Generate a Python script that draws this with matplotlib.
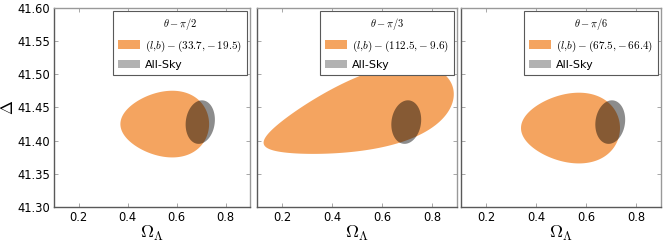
import numpy as np
import matplotlib
matplotlib.use("Agg")
import matplotlib.pyplot as plt
from matplotlib.patches import Patch

plt.rcParams['mathtext.fontset'] = 'cm'
plt.rcParams['font.family'] = ['DejaVu Sans']

# Panel data
titles = [r'$\theta-\pi/2$', r'$\theta-\pi/3$', r'$\theta-\pi/6$']
labels = [r'$(l{,}b)-(33.7{,}-19.5)$', r'$(l{,}b)-(112.5{,}-9.6)$', r'$(l{,}b)-(67.5{,}-66.4)$']
# orange contour: centre (Omega_L, Delta), half-width in Omega_L, half-height in Delta, tilt deg, egg skew
orange_cx = [0.552, 0.505, 0.538]
orange_cy = [41.425, 41.438, 41.419]
orange_a = [0.181, 0.395, 0.198]
orange_b = [0.0495, 0.054, 0.0525]
orange_tilt = [0.0, 17.0, 0.0]
orange_skew = [0.18, 0.38, 0.18]
# all-sky contour
sky_cx, sky_cy, sky_a, sky_b, sky_tilt = 0.697, 41.428, 0.059, 0.033, -8.0

xlim = (0.1, 0.9)
ylim = (41.30, 41.60)
xticks = [0.2, 0.4, 0.6, 0.8]
yticks = [41.30, 41.35, 41.40, 41.45, 41.50, 41.55, 41.60]

orange = '#f4a460'

def contour(cx, cy, a, b, tilt, skew):
    # compute in normalized axes units so tilt is visual
    sx = xlim[1] - xlim[0]
    sy = ylim[1] - ylim[0]
    t = np.linspace(0, 2 * np.pi, 400)
    A = a / sx
    B = b / sy
    p = A * np.cos(t)
    q = B * np.sin(t) * (1 + skew * np.cos(t))
    th = np.deg2rad(tilt)
    u = p * np.cos(th) - q * np.sin(th)
    v = p * np.sin(th) + q * np.cos(th)
    return cx + u * sx, cy + v * sy

fig = plt.figure(figsize=(6.64, 2.44), dpi=100)
W, H = 664, 244
boxes = [(54, 250), (257, 457), (461, 661)]
top, bottom = 8, 207
for i, (l, r) in enumerate(boxes):
    ax = fig.add_axes([l / W, 1 - bottom / H, (r - l) / W, (bottom - top) / H])
    x, y = contour(orange_cx[i], orange_cy[i], orange_a[i], orange_b[i], orange_tilt[i], orange_skew[i])
    ax.fill(x, y, color=orange, lw=0, zorder=2)
    gx, gy = contour(sky_cx, sky_cy, sky_a, sky_b, sky_tilt, 0.0)
    ax.fill(gx, gy, color='k', alpha=0.45, lw=0, zorder=3)
    ax.set_xlim(*xlim)
    ax.set_ylim(*ylim)
    ax.set_xticks(xticks)
    ax.set_yticks(yticks)
    ax.tick_params(direction='in', length=3, width=0.6, color='0.6',
                   top=True, right=True, labelsize=8.3, pad=3)
    ax.set_xticklabels([f'{v:.1f}' for v in xticks])
    if i == 0:
        ax.set_yticklabels([f'{v:.2f}' for v in yticks])
        ax.set_ylabel(r'$\Delta$', fontsize=12)
        ax.yaxis.set_label_coords(-0.19, 0.5)
    else:
        ax.set_yticklabels([])
    ax.set_xlabel(r'$\Omega_\Lambda$', fontsize=13, labelpad=0)
    for s in ['left', 'bottom']:
        ax.spines[s].set_color('0.35')
        ax.spines[s].set_linewidth(1.0)
    for s in ['top', 'right']:
        ax.spines[s].set_color('0.6')
        ax.spines[s].set_linewidth(1.0)
    handles = [Patch(facecolor=orange, edgecolor='none', label=labels[i]),
               Patch(facecolor='k', alpha=0.3, edgecolor='none', label='All-Sky')]
    leg = ax.legend(handles=handles, title=titles[i], loc='upper right',
                    fontsize=8, title_fontsize=7.5, fancybox=False,
                    framealpha=1, edgecolor='0.35', borderaxespad=0.3,
                    handlelength=2.0, handleheight=0.8, labelspacing=0.55,
                    borderpad=0.45, handletextpad=0.4)
    leg.get_frame().set_linewidth(0.8)

fig.savefig('out.png', dpi=100)
